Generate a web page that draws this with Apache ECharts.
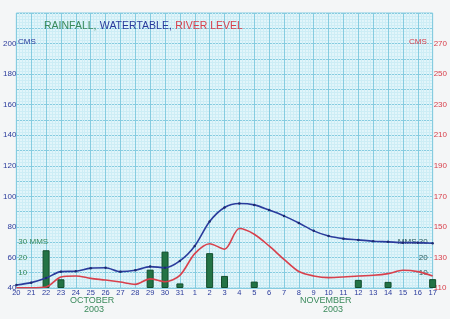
<!DOCTYPE html>
<html>
<head>
<meta charset="utf-8">
<script src="https://cdn.jsdelivr.net/npm/echarts@6/dist/echarts.min.js"></script>
<style>
html,body{margin:0;padding:0;background:#f4f6f7;}
#chart{width:450px;height:319px;}
</style>
</head>
<body>
<div id="chart"></div>
<script>
// Days from 20 Oct 2003 to 17 Nov 2003
const days = ['20','21','22','23','24','25','26','27','28','29','30','31','1','2','3','4','5','6','7','8','9','10','11','12','13','14','15','16','17'];
// Water table (cms, left axis)
const waterTable = [42,43.5,46.5,50.7,51,53,53.3,50.7,51.6,54,53.3,57.7,67.5,83.5,92.7,95.3,94.4,91,87.2,82.5,77.4,74,72.3,71.5,70.6,70.2,69.7,69.7,69.3];
// River level (cms, right axis)
const riverLevel = [110.2,110.2,110.7,117.2,117.9,116.3,115.2,113.9,112.4,116,114.1,118.3,132.5,139,135.4,148.9,145.2,137.5,128.8,120.8,117.9,116.8,117.2,117.9,118.3,119.4,121.6,120.7,117.9];
// Rainfall (mms)
const rainfall = [null,null,24.7,5.7,null,null,null,null,null,12,23.8,3,null,22.8,7.9,null,4.2,null,null,null,null,null,null,5.3,null,4,null,null,5.8];
// Tick labels
const leftTicks = [40,60,80,100,120,140,160,180,200];
const rightTicks = [110,130,150,170,190,210,230,250,270];
const rainTicks = [10,20,30];

const PAPER='#e2f5fa', MAJOR='#86cce0', MINOR='#cdedf5';
const BLUE='#2a3b9c', RED='#d8404c', GREEN='#3a8a5c';
const FONT='Liberation Sans';

const chart = echarts.init(document.getElementById('chart'), null, {renderer:'canvas'});
chart.setOption({
  backgroundColor:'#f4f6f7',
  animation:false,
  grid:{left:11,right:13,top:13,bottom:31,show:true,backgroundColor:PAPER,borderColor:MAJOR,borderWidth:1},
  xAxis:[
    {type:'value',min:0,max:28,interval:1,position:'top',show:true,axisLine:{show:false},axisTick:{show:false},axisLabel:{show:false},
     splitLine:{show:false},minorTick:{show:false,splitNumber:5},minorSplitLine:{show:true,lineStyle:{color:MINOR,width:1}}},
    {type:'category',data:days,boundaryGap:false,position:'bottom',axisLine:{show:false},axisTick:{show:false},
     axisLabel:{color:BLUE,fontSize:7.5,fontFamily:FONT,margin:1,interval:0},
     splitLine:{show:true,interval:0,lineStyle:{color:MAJOR,width:1}}}
  ],
  yAxis:[
    {type:'value',min:40,max:220,interval:10,position:'left',axisLine:{show:false},axisTick:{show:false},
     axisLabel:{color:BLUE,fontSize:8,fontFamily:FONT,margin:0,
       formatter:v=>leftTicks.includes(v)?String(v):''},
     splitLine:{show:true,lineStyle:{color:MAJOR,width:1}},
     minorTick:{show:false,splitNumber:5},minorSplitLine:{show:true,lineStyle:{color:MINOR,width:1}}},
    {type:'value',min:110,max:290,interval:10,position:'right',axisLine:{show:false},axisTick:{show:false},
     axisLabel:{color:RED,fontSize:8,fontFamily:FONT,margin:1,
       formatter:v=>rightTicks.includes(v)?String(v):''},
     splitLine:{show:false}},
    {type:'value',min:0,max:180,interval:10,position:'left',axisLine:{show:false},axisTick:{show:false},
     axisLabel:{inside:true,color:GREEN,fontSize:8,fontFamily:FONT,margin:2,
       formatter:v=>rainTicks.includes(v)?(v===30?'30 MMS':String(v)):''},
     splitLine:{show:false}},
    {type:'value',min:0,max:180,interval:10,position:'right',axisLine:{show:false},axisTick:{show:false},
     axisLabel:{inside:true,color:'#2d5a5a',fontSize:8,fontFamily:FONT,margin:5,
       formatter:v=>rainTicks.includes(v)?(v===30?'MMS 30':String(v)):''},
     splitLine:{show:false}}
  ],
  series:[
    {type:'bar',xAxisIndex:1,yAxisIndex:2,data:rainfall,barWidth:7,
     itemStyle:{color:'#237345',borderColor:'#134d2c',borderWidth:1},z:3},
    {type:'line',xAxisIndex:1,yAxisIndex:0,data:waterTable,smooth:0.3,symbol:'circle',symbolSize:2.5,
     lineStyle:{color:BLUE,width:1.6},itemStyle:{color:'#1e2a70'},z:5},
    {type:'line',xAxisIndex:1,yAxisIndex:1,data:riverLevel,smooth:0.3,symbol:'none',
     lineStyle:{color:RED,width:1.6},z:4}
  ],
  graphic:[
    {type:'text',z:100,left:44,top:20,style:{rich:{
        g:{fill:GREEN,font:'10.5px '+FONT},b:{fill:BLUE,font:'10.5px '+FONT},r:{fill:RED,font:'10.5px '+FONT}},
      text:'{g|RAINFALL,} {b|WATERTABLE,} {r|RIVER LEVEL}'}},
    {type:'text',z:100,left:18,top:38,style:{text:'CMS',fill:BLUE,font:'8px '+FONT}},
    {type:'text',z:100,left:409,top:38,style:{text:'CMS',fill:RED,font:'8px '+FONT}},
    {type:'text',z:100,left:70,top:296,style:{text:'OCTOBER',fill:GREEN,font:'9px '+FONT}},
    {type:'text',z:100,left:84,top:305,style:{text:'2003',fill:GREEN,font:'9px '+FONT}},
    {type:'text',z:100,left:300,top:296,style:{text:'NOVEMBER',fill:GREEN,font:'9px '+FONT}},
    {type:'text',z:100,left:323,top:305,style:{text:'2003',fill:GREEN,font:'9px '+FONT}}
  ]
});
</script>
</body>
</html>
